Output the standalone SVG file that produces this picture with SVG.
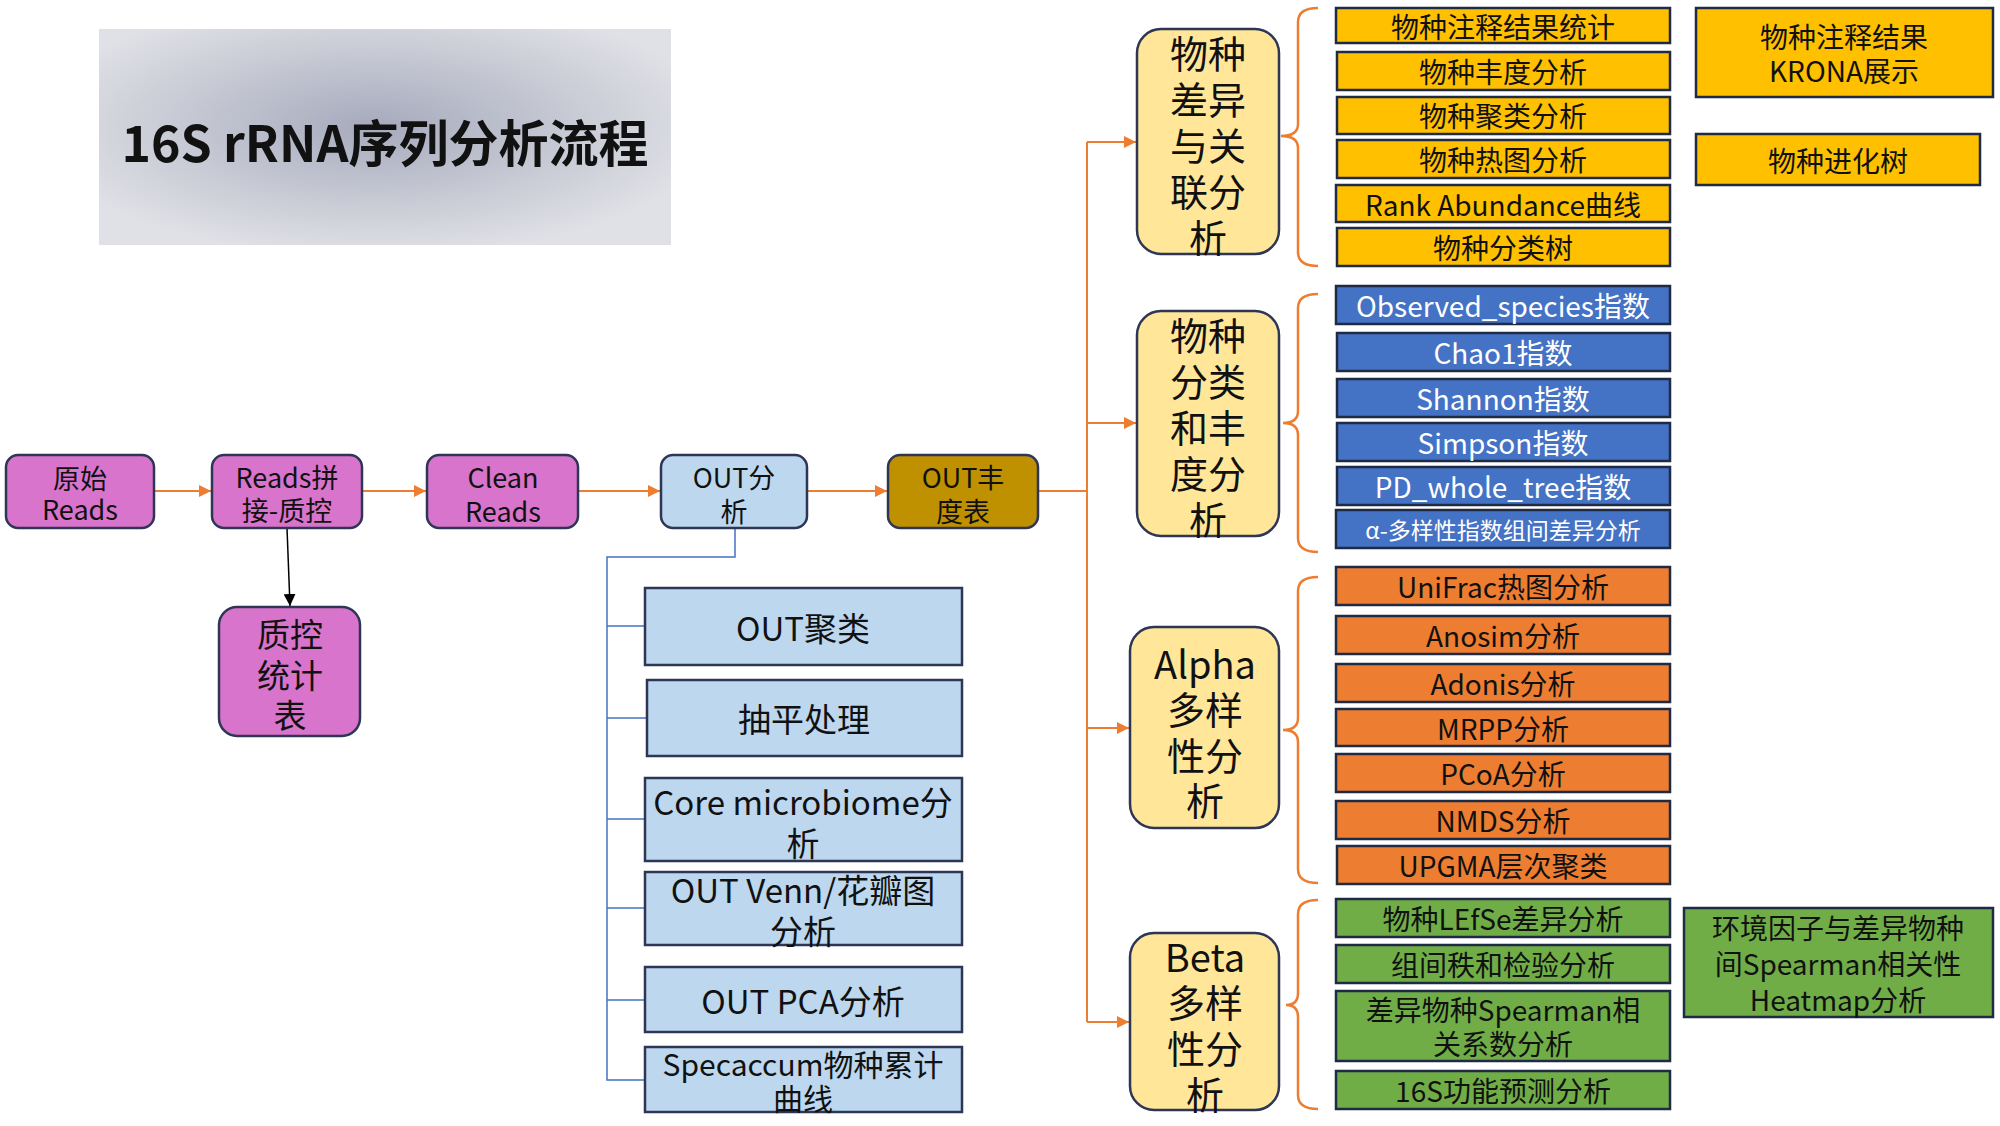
<svg xmlns="http://www.w3.org/2000/svg" width="2000" height="1126" viewBox="0 0 2000 1126">
<defs>
<radialGradient id="tg" cx="0.48" cy="0.45" r="0.6">
<stop offset="0" stop-color="#a6aabc"/>
<stop offset="1" stop-color="#e0e1e6"/>
</radialGradient>
<marker id="ao" viewBox="0 0 10 10" refX="10" refY="5" markerWidth="12" markerHeight="12" markerUnits="userSpaceOnUse" orient="auto"><path d="M0,0 L10,5 L0,10 z" fill="#ed7d31"/></marker>
<marker id="ab" viewBox="0 0 10 10" refX="10" refY="5" markerWidth="12" markerHeight="12" markerUnits="userSpaceOnUse" orient="auto"><path d="M0,0 L10,5 L0,10 z" fill="#000"/></marker>
</defs>
<style>
text{font-family:"Noto Sans CJK SC","Noto Sans",sans-serif;text-anchor:middle;dominant-baseline:central;fill:#111}
.pu{fill:#d874cb;stroke:#2e3656;stroke-width:2.5}
.lb{fill:#bdd7ee;stroke:#2e3656;stroke-width:2.5}
.gd{fill:#bf9000;stroke:#2e3656;stroke-width:2.5}
.by{fill:#ffe699;stroke:#2e3656;stroke-width:2.5}
.y{fill:#ffc000;stroke:#1f2a44;stroke-width:2.5}
.b{fill:#4472c4;stroke:#1f2a44;stroke-width:2.5}
.o{fill:#ed7d31;stroke:#1f2a44;stroke-width:2.5}
.g{fill:#70ad47;stroke:#1f2a44;stroke-width:2.5}
.wt{fill:#fff}
.m{font-size:27px}
.s{font-size:28px}
.sub{font-size:33px}
.big{font-size:38px}
.oc{fill:none;stroke:#ed7d31;stroke-width:2}
.bc{fill:none;stroke:#4472c4;stroke-width:1.5}
.br{fill:none;stroke:#ed7d31;stroke-width:2.5}
</style>
<rect width="2000" height="1126" fill="#fff"/>

<g id="title">
<rect x="99" y="29" width="572" height="216" fill="url(#tg)"/>
<text x="385" y="140" style="font-size:50px;font-weight:bold">16S rRNA序列分析流程</text>
</g>

<g id="connectors">
<line class="oc" x1="154" y1="491" x2="211" y2="491" marker-end="url(#ao)"/>
<line class="oc" x1="362" y1="491" x2="426" y2="491" marker-end="url(#ao)"/>
<line class="oc" x1="578" y1="491" x2="660" y2="491" marker-end="url(#ao)"/>
<line class="oc" x1="807" y1="491" x2="887" y2="491" marker-end="url(#ao)"/>
<line x1="287" y1="528" x2="290" y2="606" stroke="#000" stroke-width="1.5" marker-end="url(#ab)"/>
<polyline class="bc" points="735,528 735,557 607,557 607,1080 644,1080"/>
<line class="bc" x1="607" y1="626" x2="645" y2="626"/>
<line class="bc" x1="607" y1="718" x2="647" y2="718"/>
<line class="bc" x1="607" y1="819" x2="645" y2="819"/>
<line class="bc" x1="607" y1="908" x2="645" y2="908"/>
<line class="bc" x1="607" y1="1000" x2="645" y2="1000"/>
<polyline class="oc" points="1038,491 1087,491"/>
<line class="oc" x1="1087" y1="142" x2="1087" y2="1022"/>
<line class="oc" x1="1087" y1="142" x2="1136" y2="142" marker-end="url(#ao)"/>
<line class="oc" x1="1087" y1="423" x2="1136" y2="423" marker-end="url(#ao)"/>
<line class="oc" x1="1087" y1="728" x2="1129" y2="728" marker-end="url(#ao)"/>
<line class="oc" x1="1087" y1="1022" x2="1129" y2="1022" marker-end="url(#ao)"/>
<path class="br" d="M1318,8 Q1298,8 1298,22 L1298,124 Q1298,136 1281,136 Q1298,136 1298,148 L1298,252 Q1298,266 1318,266"/>
<path class="br" d="M1318,294 Q1298,294 1298,308 L1298,411 Q1298,423 1283,423 Q1298,423 1298,435 L1298,538 Q1298,552 1318,552"/>
<path class="br" d="M1318,577 Q1298,577 1298,591 L1298,718 Q1298,730 1283,730 Q1298,730 1298,742 L1298,869 Q1298,883 1318,883"/>
<path class="br" d="M1318,900 Q1298,900 1298,914 L1298,993 Q1298,1005 1286,1005 Q1298,1005 1298,1017 L1298,1095 Q1298,1109 1318,1109"/>
</g>

<g id="n-raw"><rect class="pu" x="6" y="455" width="148" height="73" rx="12"/><text class="m" x="80" y="477">原始</text><text class="m" x="80" y="508">Reads</text></g>
<g id="n-merge"><rect class="pu" x="212" y="455" width="150" height="73" rx="12"/><text class="m" x="287" y="476">Reads拼</text><text class="m" x="287" y="509">接-质控</text></g>
<g id="n-clean"><rect class="pu" x="427" y="455" width="151" height="73" rx="12"/><text class="m" x="503" y="476">Clean</text><text class="m" x="503" y="510">Reads</text></g>
<g id="n-out"><rect class="lb" x="661" y="455" width="146" height="73" rx="12"/><text class="m" x="734" y="476">OUT分</text><text class="m" x="734" y="510">析</text></g>
<g id="n-abund"><rect class="gd" x="888" y="455" width="150" height="73" rx="12"/><text class="m" x="963" y="476">OUT丰</text><text class="m" x="963" y="510">度表</text></g>
<g id="n-qc"><rect class="pu" x="219" y="607" width="141" height="129" rx="18"/><text class="sub" x="290" y="633">质控</text><text class="sub" x="290" y="674">统计</text><text class="sub" x="290" y="714">表</text></g>

<g id="n-otu1"><rect class="lb" x="645" y="588" width="317" height="77"/><text class="sub" x="803" y="627">OUT聚类</text></g>
<g id="n-otu2"><rect class="lb" x="647" y="680" width="315" height="76"/><text class="sub" x="804" y="718">抽平处理</text></g>
<g id="n-otu3"><rect class="lb" x="645" y="778" width="317" height="83"/><text class="sub" x="803" y="801">Core microbiome分</text><text class="sub" x="803" y="842">析</text></g>
<g id="n-otu4"><rect class="lb" x="645" y="872" width="317" height="73"/><text class="sub" x="803" y="889">OUT Venn/花瓣图</text><text class="sub" x="803" y="930">分析</text></g>
<g id="n-otu5"><rect class="lb" x="645" y="967" width="317" height="65"/><text class="sub" x="803" y="1000">OUT PCA分析</text></g>
<g id="n-otu6"><rect class="lb" x="645" y="1047" width="317" height="65"/><text x="803" y="1063" style="font-size:30px">Specaccum物种累计</text><text x="803" y="1097" style="font-size:30px">曲线</text></g>

<g id="n-diff"><rect class="by" x="1137" y="29" width="142" height="225" rx="24"/><text class="big" x="1208" y="51">物种</text><text class="big" x="1208" y="97">差异</text><text class="big" x="1208" y="143">与关</text><text class="big" x="1208" y="189">联分</text><text class="big" x="1208" y="235">析</text></g>
<g id="n-tax"><rect class="by" x="1137" y="311" width="142" height="225" rx="24"/><text class="big" x="1208" y="333">物种</text><text class="big" x="1208" y="379">分类</text><text class="big" x="1208" y="425">和丰</text><text class="big" x="1208" y="471">度分</text><text class="big" x="1208" y="517">析</text></g>
<g id="n-alpha"><rect class="by" x="1130" y="627" width="149" height="201" rx="24"/><text class="big" x="1205" y="662">Alpha</text><text class="big" x="1205" y="707">多样</text><text class="big" x="1205" y="753">性分</text><text class="big" x="1205" y="798">析</text></g>
<g id="n-beta"><rect class="by" x="1130" y="933" width="149" height="177" rx="24"/><text class="big" x="1205" y="955">Beta</text><text class="big" x="1205" y="1000">多样</text><text class="big" x="1205" y="1046">性分</text><text class="big" x="1205" y="1092">析</text></g>

<g id="n-y1"><rect class="y" x="1336" y="8" width="334" height="35"/><text class="s" x="1503" y="26">物种注释结果统计</text></g>
<g id="n-y2"><rect class="y" x="1337" y="52" width="333" height="38"/><text class="s" x="1503" y="71">物种丰度分析</text></g>
<g id="n-y3"><rect class="y" x="1337" y="97" width="333" height="37"/><text class="s" x="1503" y="115">物种聚类分析</text></g>
<g id="n-y4"><rect class="y" x="1337" y="140" width="333" height="38"/><text class="s" x="1503" y="159">物种热图分析</text></g>
<g id="n-y5"><rect class="y" x="1336" y="185" width="334" height="37"/><text class="s" x="1503" y="204">Rank Abundance曲线</text></g>
<g id="n-y6"><rect class="y" x="1337" y="228" width="333" height="38"/><text class="s" x="1503" y="247">物种分类树</text></g>
<g id="n-krona"><rect class="y" x="1696" y="8" width="297" height="89"/><text class="s" x="1844" y="36">物种注释结果</text><text class="s" x="1844" y="70">KRONA展示</text></g>
<g id="n-tree"><rect class="y" x="1696" y="134" width="284" height="51"/><text class="s" x="1838" y="160">物种进化树</text></g>

<g id="n-b1"><rect class="b" x="1336" y="286" width="334" height="38"/><text class="s wt" x="1503" y="305">Observed_species指数</text></g>
<g id="n-b2"><rect class="b" x="1337" y="333" width="333" height="38"/><text class="s wt" x="1503" y="352">Chao1指数</text></g>
<g id="n-b3"><rect class="b" x="1337" y="379" width="333" height="38"/><text class="s wt" x="1503" y="398">Shannon指数</text></g>
<g id="n-b4"><rect class="b" x="1337" y="423" width="333" height="38"/><text class="s wt" x="1503" y="442">Simpson指数</text></g>
<g id="n-b5"><rect class="b" x="1337" y="467" width="333" height="38"/><text class="s wt" x="1503" y="486">PD_whole_tree指数</text></g>
<g id="n-b6"><rect class="b" x="1336" y="510" width="334" height="38"/><text class="wt" x="1503" y="529" style="font-size:23px">α-多样性指数组间差异分析</text></g>

<g id="n-o1"><rect class="o" x="1336" y="567" width="334" height="38"/><text class="s" x="1503" y="586">UniFrac热图分析</text></g>
<g id="n-o2"><rect class="o" x="1336" y="616" width="334" height="38"/><text class="s" x="1503" y="635">Anosim分析</text></g>
<g id="n-o3"><rect class="o" x="1336" y="664" width="334" height="38"/><text class="s" x="1503" y="683">Adonis分析</text></g>
<g id="n-o4"><rect class="o" x="1336" y="709" width="334" height="37"/><text class="s" x="1503" y="728">MRPP分析</text></g>
<g id="n-o5"><rect class="o" x="1336" y="754" width="334" height="38"/><text class="s" x="1503" y="773">PCoA分析</text></g>
<g id="n-o6"><rect class="o" x="1336" y="801" width="334" height="38"/><text class="s" x="1503" y="820">NMDS分析</text></g>
<g id="n-o7"><rect class="o" x="1337" y="846" width="333" height="38"/><text class="s" x="1503" y="865">UPGMA层次聚类</text></g>

<g id="n-g1"><rect class="g" x="1336" y="899" width="334" height="38"/><text class="s" x="1503" y="918">物种LEfSe差异分析</text></g>
<g id="n-g2"><rect class="g" x="1336" y="945" width="334" height="38"/><text class="s" x="1503" y="964">组间秩和检验分析</text></g>
<g id="n-g3"><rect class="g" x="1336" y="991" width="334" height="70"/><text class="s" x="1503" y="1009">差异物种Spearman相</text><text class="s" x="1503" y="1043">关系数分析</text></g>
<g id="n-g4"><rect class="g" x="1336" y="1071" width="334" height="38"/><text class="s" x="1503" y="1090">16S功能预测分析</text></g>
<g id="n-env"><rect class="g" x="1684" y="908" width="309" height="109"/><text class="s" x="1838" y="927">环境因子与差异物种</text><text class="s" x="1838" y="963">间Spearman相关性</text><text class="s" x="1838" y="999">Heatmap分析</text></g>
</svg>
